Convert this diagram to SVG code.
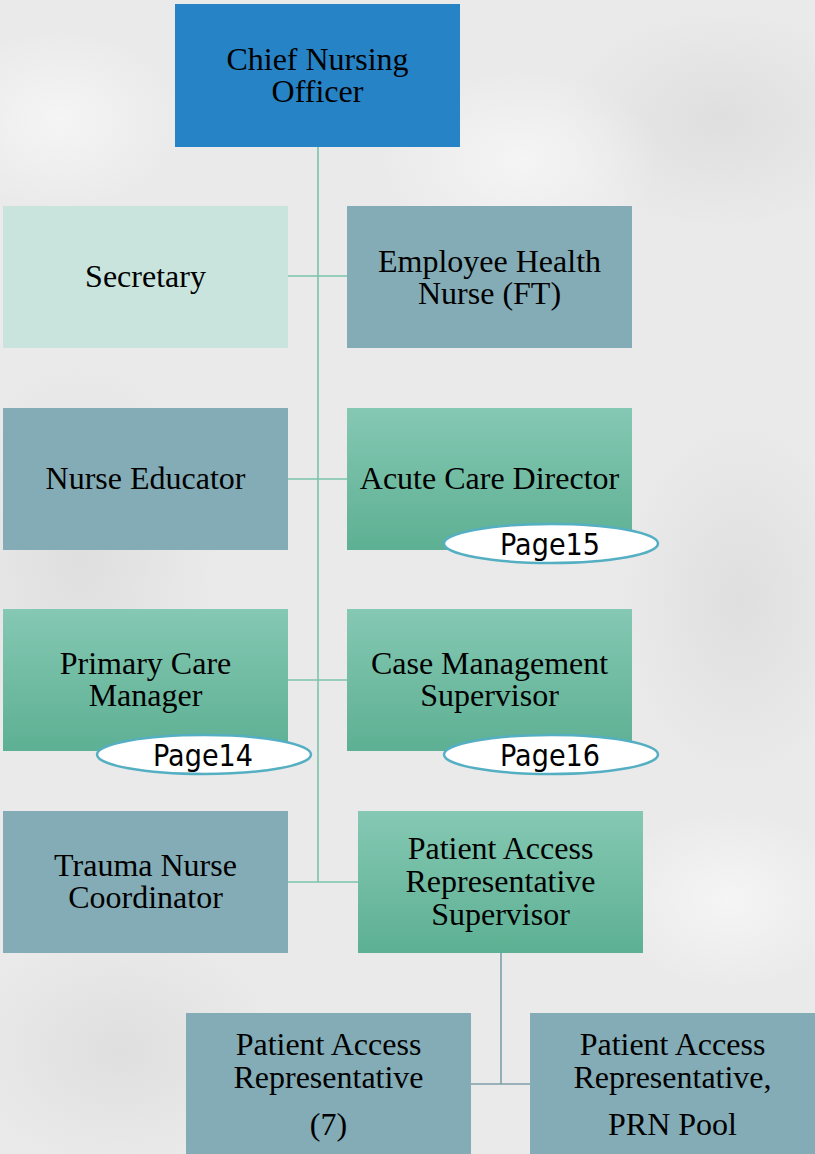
<svg xmlns="http://www.w3.org/2000/svg" width="815" height="1154" viewBox="0 0 815 1154">
<defs>
<linearGradient id="green" x1="0" y1="0" x2="0" y2="1">
<stop offset="0" stop-color="#85C8B3"/>
<stop offset="1" stop-color="#5DB093"/>
</linearGradient>
<radialGradient id="blot" cx="0.5" cy="0.5" r="0.5">
<stop offset="0" stop-color="#DADADA" stop-opacity="0.7"/>
<stop offset="1" stop-color="#DADADA" stop-opacity="0"/>
</radialGradient>
<radialGradient id="light" cx="0.5" cy="0.5" r="0.5">
<stop offset="0" stop-color="#F6F6F6" stop-opacity="0.9"/>
<stop offset="1" stop-color="#F6F6F6" stop-opacity="0"/>
</radialGradient>
</defs>
<style>
.lbl{font-family:"Liberation Serif","Times New Roman",serif;font-size:32px;fill:#000;text-anchor:middle}
.pg{font-family:"DejaVu Sans","Open Sans",sans-serif;font-size:30px;fill:#000;text-anchor:middle}
.blue{fill:#2683C6}
.teal{fill:#84ACB6}
.pale{fill:#C8E4DC}
.grn{fill:url(#green)}
.oval{fill:#FFFFFF;stroke:#55AFC2;stroke-width:2.5}
.con{fill:none;stroke:#7CC4AC;stroke-width:1.6}
.con2{fill:none;stroke:#7F9FA8;stroke-width:1.6}
</style>
<rect x="0" y="0" width="815" height="1154" fill="#EAEAEA"/>
<ellipse cx="720" cy="120" rx="160" ry="110" fill="url(#blot)"/>
<ellipse cx="80" cy="560" rx="140" ry="200" fill="url(#blot)"/>
<ellipse cx="740" cy="600" rx="120" ry="180" fill="url(#blot)"/>
<ellipse cx="120" cy="1050" rx="160" ry="120" fill="url(#blot)"/>
<ellipse cx="520" cy="160" rx="140" ry="90" fill="url(#light)"/>
<ellipse cx="60" cy="120" rx="120" ry="90" fill="url(#light)"/>
<ellipse cx="730" cy="900" rx="120" ry="90" fill="url(#light)"/>

<g id="connectors">
<path class="con" d="M318 147 V882 M288 276 H347 M288 479 H347 M288 680 H347 M288 882 H358"/>
<path class="con2" d="M501 953 V1084 M471 1084 H530"/>
</g>

<g id="chief">
<rect class="blue" x="175" y="4" width="285" height="143"/>
<text class="lbl" x="317.5" y="70">Chief Nursing</text>
<text class="lbl" x="317.5" y="102">Officer</text>
</g>
<g id="secretary">
<rect class="pale" x="3" y="206" width="285" height="142"/>
<text class="lbl" x="145.5" y="287">Secretary</text>
</g>
<g id="employee-health">
<rect class="teal" x="347" y="206" width="285" height="142"/>
<text class="lbl" x="489.5" y="272">Employee Health</text>
<text class="lbl" x="489.5" y="304">Nurse (FT)</text>
</g>
<g id="nurse-educator">
<rect class="teal" x="3" y="408" width="285" height="142"/>
<text class="lbl" x="145.5" y="489">Nurse Educator</text>
</g>
<g id="acute-care">
<rect class="grn" x="347" y="408" width="285" height="142"/>
<text class="lbl" x="489.5" y="489">Acute Care Director</text>
<ellipse class="oval" cx="551" cy="543.5" rx="107" ry="19.5"/>
<text class="pg" x="550" y="555" textLength="100" lengthAdjust="spacingAndGlyphs">Page15</text>
</g>
<g id="primary-care">
<rect class="grn" x="3" y="609" width="285" height="142"/>
<text class="lbl" x="145.5" y="674">Primary Care</text>
<text class="lbl" x="145.5" y="706">Manager</text>
<ellipse class="oval" cx="204" cy="754.5" rx="107" ry="19.5"/>
<text class="pg" x="203" y="766" textLength="100" lengthAdjust="spacingAndGlyphs">Page14</text>
</g>
<g id="case-management">
<rect class="grn" x="347" y="609" width="285" height="142"/>
<text class="lbl" x="489.5" y="674">Case Management</text>
<text class="lbl" x="489.5" y="706">Supervisor</text>
<ellipse class="oval" cx="551" cy="754.5" rx="107" ry="19.5"/>
<text class="pg" x="550" y="766" textLength="100" lengthAdjust="spacingAndGlyphs">Page16</text>
</g>
<g id="trauma">
<rect class="teal" x="3" y="811" width="285" height="142"/>
<text class="lbl" x="145.5" y="876">Trauma Nurse</text>
<text class="lbl" x="145.5" y="908">Coordinator</text>
</g>
<g id="par-supervisor">
<rect class="grn" x="358" y="811" width="285" height="142"/>
<text class="lbl" x="500.5" y="859">Patient Access</text>
<text class="lbl" x="500.5" y="892">Representative</text>
<text class="lbl" x="500.5" y="925">Supervisor</text>
</g>
<g id="par-7">
<rect class="teal" x="186" y="1013" width="285" height="145"/>
<text class="lbl" x="328.5" y="1055">Patient Access</text>
<text class="lbl" x="328.5" y="1088">Representative</text>
<text class="lbl" x="328.5" y="1135">(7)</text>
</g>
<g id="par-prn">
<rect class="teal" x="530" y="1013" width="290" height="145"/>
<text class="lbl" x="672.5" y="1055">Patient Access</text>
<text class="lbl" x="672.5" y="1088">Representative,</text>
<text class="lbl" x="672.5" y="1135">PRN Pool</text>
</g>
</svg>
